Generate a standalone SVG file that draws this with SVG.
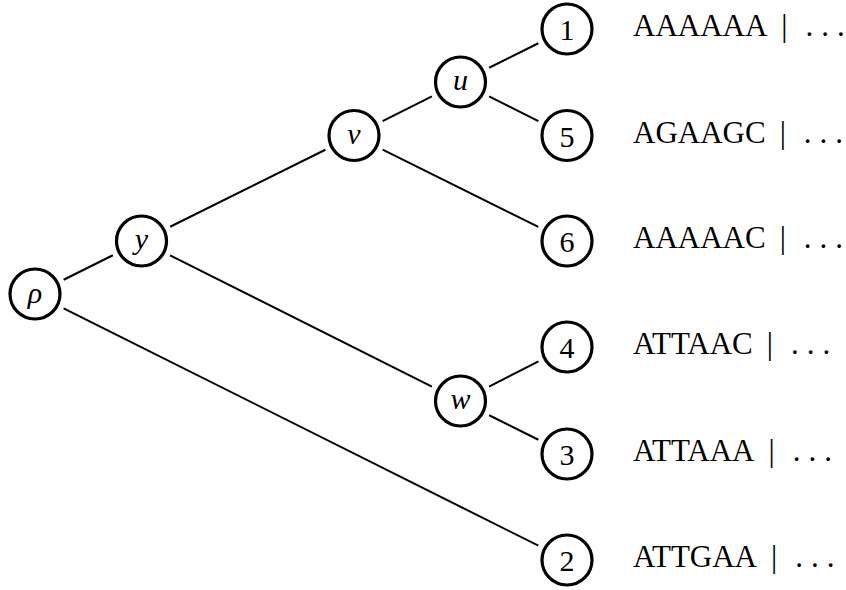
<svg xmlns="http://www.w3.org/2000/svg" width="846" height="590" viewBox="0 0 846 590">
<style>
.node circle{fill:#fff;stroke:#000;stroke-width:3.2}
.lbl{font-family:"Liberation Serif","DejaVu Serif",serif;font-size:30px;text-anchor:middle;fill:#000}
.it{font-style:italic}
.seq{font-family:"Liberation Serif","DejaVu Serif",serif;font-size:31px;fill:#000}
#edges line{stroke:#000;stroke-width:2}
</style>
<rect width="846" height="590" fill="#fff"/>
<g id="edges">
<line x1="63.65" y1="279.74" x2="112.85" y2="255.26"/>
<line x1="63.62" y1="308.31" x2="538.38" y2="545.69"/>
<line x1="170.16" y1="226.77" x2="325.34" y2="149.73"/>
<line x1="170.1" y1="255.35" x2="431.9" y2="386.65"/>
<line x1="382.6" y1="121.13" x2="431.9" y2="96.37"/>
<line x1="382.67" y1="149.7" x2="538.33" y2="226.8"/>
<line x1="489.15" y1="67.74" x2="538.35" y2="43.26"/>
<line x1="489.1" y1="96.36" x2="538.4" y2="121.14"/>
<line x1="489.04" y1="386.53" x2="538.46" y2="361.47"/>
<line x1="489.15" y1="415.26" x2="538.35" y2="439.74"/>
</g>
<g id="rho" class="node"><circle cx="35" cy="294" r="25"/><text class="lbl it" x="35" y="303">ρ</text></g>
<g id="y" class="node"><circle cx="141.5" cy="241" r="25"/><text class="lbl it" x="141.5" y="249">y</text></g>
<g id="v" class="node"><circle cx="354" cy="135.5" r="25"/><text class="lbl it" x="354" y="144">v</text></g>
<g id="u" class="node"><circle cx="460.5" cy="82" r="25"/><text class="lbl it" x="460.5" y="90">u</text></g>
<g id="w" class="node"><circle cx="460.5" cy="401" r="25"/><text class="lbl it" x="460.5" y="409">w</text></g>
<g id="n1" class="node"><circle cx="567" cy="29" r="25"/><text class="lbl" x="567" y="40">1</text></g>
<g id="n5" class="node"><circle cx="567" cy="135.5" r="25"/><text class="lbl" x="567" y="146.5">5</text></g>
<g id="n6" class="node"><circle cx="567" cy="241" r="25"/><text class="lbl" x="567" y="252">6</text></g>
<g id="n4" class="node"><circle cx="567" cy="347" r="25"/><text class="lbl" x="567" y="358">4</text></g>
<g id="n3" class="node"><circle cx="567" cy="454" r="25"/><text class="lbl" x="567" y="465">3</text></g>
<g id="n2" class="node"><circle cx="567" cy="560" r="25"/><text class="lbl" x="567" y="571">2</text></g>
<g id="sequences">
<text class="seq" x="633" y="35.5">AAAAAA<tspan dx="14">|</tspan><tspan dx="18">.</tspan><tspan dx="8">.</tspan><tspan dx="8">.</tspan></text>
<text class="seq" x="633" y="142.5">AGAAGC<tspan dx="14">|</tspan><tspan dx="18">.</tspan><tspan dx="8">.</tspan><tspan dx="8">.</tspan></text>
<text class="seq" x="633" y="248">AAAAAC<tspan dx="14">|</tspan><tspan dx="18">.</tspan><tspan dx="8">.</tspan><tspan dx="8">.</tspan></text>
<text class="seq" x="633" y="354">ATTAAC<tspan dx="14">|</tspan><tspan dx="18">.</tspan><tspan dx="8">.</tspan><tspan dx="8">.</tspan></text>
<text class="seq" x="633" y="461">ATTAAA<tspan dx="14">|</tspan><tspan dx="18">.</tspan><tspan dx="8">.</tspan><tspan dx="8">.</tspan></text>
<text class="seq" x="633" y="567">ATTGAA<tspan dx="14">|</tspan><tspan dx="18">.</tspan><tspan dx="8">.</tspan><tspan dx="8">.</tspan></text>
</g>
</svg>
